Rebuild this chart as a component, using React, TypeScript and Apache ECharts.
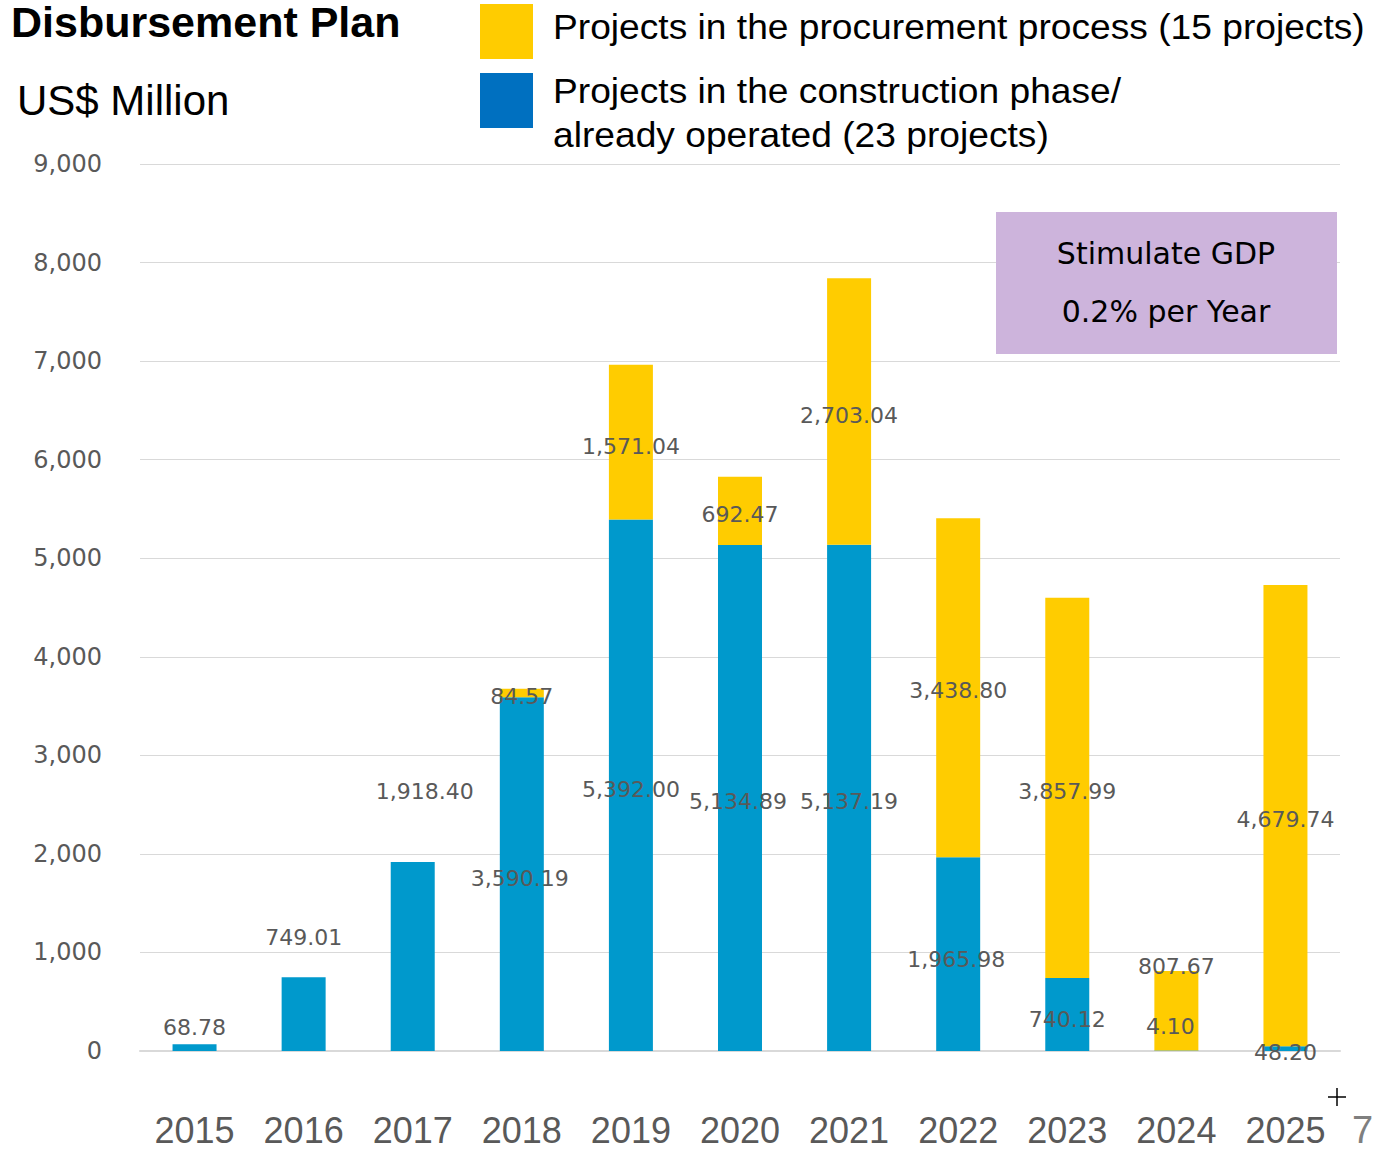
import React, { useEffect, useRef } from "react";
import * as echarts from "echarts";

const years = ["2015", "2016", "2017", "2018", "2019", "2020", "2021", "2022", "2023", "2024", "2025"];
const constructionValues = [68.78, 749.01, 1918.4, 3590.19, 5392.0, 5134.89, 5137.19, 1965.98, 740.12, 4.1, 48.2];
const procurementValues = [0, 0, 0, 84.57, 1571.04, 692.47, 2703.04, 3438.8, 3857.99, 807.67, 4679.74];
const yTicks = [0, 1000, 2000, 3000, 4000, 5000, 6000, 7000, 8000, 9000];

const legendProcurement = "Projects in the procurement process (15 projects)";
const legendConstructionLine1 = "Projects in the construction phase/";
const legendConstructionLine2 = "already operated (23 projects)";

// label placement styling (not data)
const blueLabelTopDistance = [6, 29, 59, null, null, null, null, null, null, null, null];
const blueLabelDx = [0, 0, 12, -2, 0, -2, 0, -2, 0, -6, 0];
const blueLabelDy = [0, 0, 0, 4, 4, 4, 4, 5, 5, -24, 4];
const yellowLabelDy = [0, 0, 0, 4, 4, 4, 4, 3, 4, -44, 4];

const BLUE = "#0099CC";
const YELLOW = "#FFCC00";
const LABEL_COLOR = "#595959";
const LABEL_FONT = "DejaVu Sans";

const fmt = (v: number) =>
  v.toLocaleString("en-US", { minimumFractionDigits: 2, maximumFractionDigits: 2 });

export default function App() {
  const ref = useRef<HTMLDivElement>(null);
  useEffect(() => {
    if (!ref.current) return;
    const chart = echarts.init(ref.current, undefined, { renderer: "svg" });
    const H = chart.getHeight();
    const axisY = 1051;

    const blueData = constructionValues.map((v, i) => {
      const d = blueLabelTopDistance[i];
      return {
        value: v,
        label:
          d != null
            ? { position: "top", distance: d, offset: [blueLabelDx[i], 0] }
            : { position: "inside", offset: [blueLabelDx[i], blueLabelDy[i]] },
      };
    });
    const yellowData = procurementValues.map((v, i) => ({
      value: v,
      label: { position: "inside", offset: [0, yellowLabelDy[i]] },
    }));

    const labelStyle = {
      show: true,
      color: LABEL_COLOR,
      fontFamily: LABEL_FONT,
      fontSize: 22,
      formatter: (p: any) => (p.value ? fmt(p.value) : ""),
    };

    const legendFont = "35px 'Liberation Sans', Arial, sans-serif";

    chart.setOption({
      animation: false,
      backgroundColor: "#ffffff",
      grid: {
        left: 140,
        right: 46,
        top: 164,
        bottom: H - axisY,
        containLabel: false,
        outerBoundsMode: "none",
      },
      xAxis: {
        type: "category",
        data: years,
        axisLine: { show: true, lineStyle: { color: "#D9D9D9", width: 2 } },
        axisTick: { show: false },
        axisLabel: {
          color: "#595959",
          fontFamily: "Liberation Sans",
          fontSize: 36,
          interval: 0,
          margin: 61,
        },
      },
      yAxis: {
        type: "value",
        min: yTicks[0],
        max: yTicks[yTicks.length - 1],
        interval: 1000,
        axisLine: { show: false },
        axisTick: { show: false },
        splitLine: { lineStyle: { color: "#D9D9D9", width: 1 } },
        axisLabel: {
          color: "#595959",
          fontFamily: LABEL_FONT,
          fontSize: 24,
          margin: 38,
          formatter: (v: number) => v.toLocaleString("en-US"),
        },
      },
      series: [
        {
          name: legendConstructionLine1 + legendConstructionLine2,
          type: "bar",
          stack: "total",
          barWidth: 44,
          itemStyle: { color: BLUE },
          label: labelStyle,
          data: blueData,
          z: 2,
        },
        {
          name: legendProcurement,
          type: "bar",
          stack: "total",
          barWidth: 44,
          itemStyle: { color: YELLOW },
          label: labelStyle,
          data: yellowData,
          z: 2,
        },
      ],
      graphic: [
        {
          type: "text",
          left: 11,
          top: 0,
          style: {
            text: "Disbursement Plan",
            font: "bold 43px 'Liberation Sans', Arial, sans-serif",
            fill: "#000",
          },
        },
        {
          type: "text",
          x: 17,
          y: 100,
          style: {
            text: "US$ Million",
            font: "42px 'Liberation Sans', Arial, sans-serif",
            fill: "#000",
            verticalAlign: "middle",
          },
        },
        { type: "rect", shape: { x: 480, y: 4, width: 53, height: 55 }, style: { fill: YELLOW } },
        { type: "rect", shape: { x: 480, y: 73, width: 53, height: 55 }, style: { fill: "#0070C0" } },
        {
          type: "text",
          x: 553,
          y: 27,
          scaleX: 1.062,
          style: { text: legendProcurement, font: legendFont, fill: "#000", verticalAlign: "middle" },
        },
        {
          type: "text",
          x: 553,
          y: 91,
          scaleX: 1.062,
          style: { text: legendConstructionLine1, font: legendFont, fill: "#000", verticalAlign: "middle" },
        },
        {
          type: "text",
          x: 553,
          y: 135,
          scaleX: 1.062,
          style: { text: legendConstructionLine2, font: legendFont, fill: "#000", verticalAlign: "middle" },
        },
        {
          type: "rect",
          z: 10,
          shape: { x: 996, y: 212, width: 341, height: 142 },
          style: { fill: "#CDB4DC" },
        },
        {
          type: "text",
          z: 11,
          x: 1166,
          y: 253,
          style: {
            text: "Stimulate GDP",
            font: "30px 'DejaVu Sans', sans-serif",
            fill: "#000",
            align: "center",
            verticalAlign: "middle",
          },
        },
        {
          type: "text",
          z: 11,
          x: 1166,
          y: 311,
          style: {
            text: "0.2% per Year",
            font: "30px 'DejaVu Sans', sans-serif",
            fill: "#000",
            align: "center",
            verticalAlign: "middle",
          },
        },
        {
          type: "line",
          shape: { x1: 1328, y1: 1097, x2: 1346, y2: 1097 },
          style: { stroke: "#000", lineWidth: 1.5 },
        },
        {
          type: "line",
          shape: { x1: 1337, y1: 1088, x2: 1337, y2: 1106 },
          style: { stroke: "#000", lineWidth: 1.5 },
        },
        {
          type: "text",
          x: 1352,
          y: 1130,
          style: {
            text: "7",
            font: "38px 'Liberation Sans', Arial, sans-serif",
            fill: "#7F7F7F",
            verticalAlign: "middle",
          },
        },
      ],
    });
    return () => chart.dispose();
  }, []);

  return (
    <div
      ref={ref}
      style={{ position: "fixed", left: 0, top: 0, width: "100vw", height: "100vh", background: "#fff" }}
    />
  );
}
